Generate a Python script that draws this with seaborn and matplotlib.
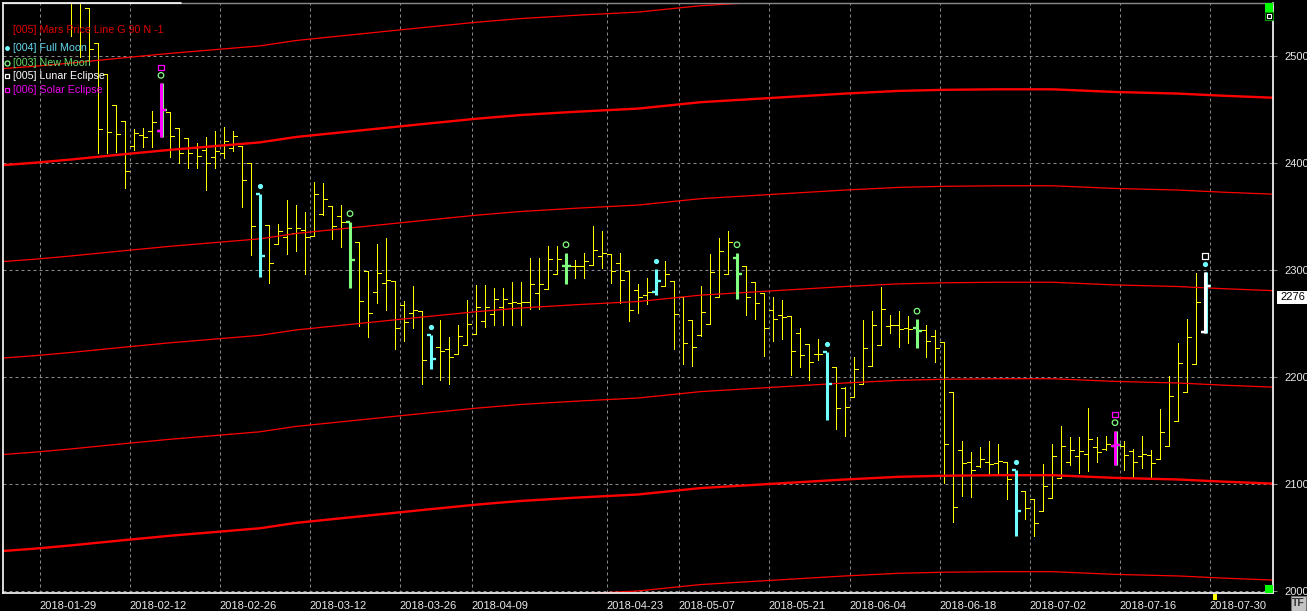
import numpy as np
import pandas as pd
import seaborn as sns
import matplotlib
matplotlib.use("Agg")
import matplotlib.pyplot as plt
from matplotlib.patches import Rectangle

# daily bars, index 0 = 2018-02-01
opens = [2575, 2560, 2544, 2512, 2483, 2454, 2439, 2416, 2426, 2430,
         2430, 2447, 2432, 2423, 2414, 2412, 2405, 2409, 2414, 2416,
         2400, 2371, 2342, 2324, 2331, 2334, 2337, 2332, 2352, 2360,
         2350, 2345, 2326, 2299, 2279, 2288, 2290, 2267, 2260, 2262,
         2239, 2228, 2226, 2222, 2230, 2240, 2252, 2259, 2265, 2269,
         2269, 2270, 2278, 2282, 2296, 2304, 2304, 2304, 2305, 2313,
         2315, 2306, 2299, 2281, 2277, 2279, 2285, 2290, 2275, 2253,
         2239, 2250, 2275, 2296, 2311, 2304, 2289, 2278, 2263, 2258,
         2257, 2241, 2231, 2222, 2223, 2209, 2190, 2181, 2194, 2210,
         2230, 2248, 2249, 2246, 2246, 2244, 2238, 2233, 2186, 2132,
         2121, 2117, 2121, 2120, 2121, 2113, 2094, 2086, 2075, 2087,
         2106, 2121, 2126, 2128, 2135, 2133, 2136, 2136, 2131, 2126,
         2127, 2124, 2136, 2159, 2186, 2212, 2242]
highs = [2590, 2570, 2544, 2512, 2483, 2454, 2439, 2431, 2432, 2448,
         2474, 2447, 2432, 2423, 2418, 2424, 2430, 2433, 2430, 2416,
         2400, 2371, 2342, 2343, 2365, 2361, 2354, 2382, 2381, 2360,
         2361, 2345, 2326, 2299, 2324, 2330, 2290, 2271, 2285, 2262,
         2239, 2253, 2237, 2249, 2272, 2286, 2286, 2283, 2283, 2289,
         2289, 2311, 2311, 2322, 2322, 2316, 2309, 2316, 2341, 2336,
         2315, 2316, 2299, 2287, 2292, 2301, 2308, 2290, 2275, 2253,
         2285, 2315, 2330, 2336, 2316, 2304, 2289, 2278, 2275, 2272,
         2257, 2246, 2231, 2236, 2223, 2209, 2191, 2219, 2253, 2262,
         2284, 2258, 2262, 2257, 2254, 2249, 2244, 2233, 2186, 2140,
         2130, 2135, 2140, 2138, 2121, 2113, 2094, 2086, 2119, 2138,
         2154, 2144, 2144, 2171, 2144, 2145, 2150, 2140, 2133, 2145,
         2132, 2170, 2201, 2232, 2254, 2297, 2298]
lows = [2518, 2499, 2494, 2409, 2409, 2410, 2376, 2412, 2415, 2415,
        2424, 2405, 2400, 2395, 2395, 2375, 2395, 2404, 2411, 2359,
        2314, 2293, 2288, 2324, 2315, 2318, 2296, 2332, 2351, 2329,
        2321, 2283, 2248, 2237, 2269, 2263, 2226, 2234, 2246, 2194,
        2208, 2197, 2194, 2222, 2230, 2240, 2247, 2249, 2249, 2249,
        2249, 2264, 2264, 2282, 2296, 2287, 2292, 2292, 2305, 2302,
        2288, 2269, 2252, 2260, 2268, 2277, 2285, 2226, 2212, 2210,
        2238, 2250, 2275, 2296, 2273, 2258, 2254, 2220, 2234, 2236,
        2202, 2209, 2197, 2216, 2160, 2152, 2145, 2181, 2194, 2210,
        2230, 2241, 2228, 2232, 2227, 2219, 2214, 2101, 2065, 2089,
        2088, 2116, 2110, 2110, 2086, 2052, 2068, 2052, 2075, 2087,
        2106, 2118, 2111, 2112, 2121, 2132, 2118, 2113, 2107, 2115,
        2107, 2124, 2136, 2159, 2186, 2212, 2241]
closes = [2552, 2551, 2506, 2431, 2429, 2427, 2392, 2428, 2424, 2438,
          2449, 2425, 2409, 2409, 2406, 2400, 2411, 2420, 2425, 2384,
          2341, 2313, 2306, 2336, 2339, 2339, 2331, 2371, 2366, 2341,
          2345, 2309, 2271, 2260, 2297, 2291, 2246, 2251, 2263, 2216,
          2217, 2224, 2219, 2238, 2250, 2265, 2265, 2273, 2273, 2270,
          2270, 2287, 2287, 2310, 2310, 2304, 2304, 2308, 2319, 2316,
          2299, 2291, 2263, 2275, 2279, 2290, 2296, 2259, 2232, 2228,
          2261, 2298, 2318, 2326, 2296, 2275, 2269, 2246, 2254, 2256,
          2224, 2221, 2214, 2222, 2194, 2171, 2172, 2208, 2227, 2249,
          2264, 2249, 2245, 2245, 2243, 2234, 2227, 2138, 2079, 2120,
          2113, 2124, 2119, 2122, 2105, 2075, 2078, 2064, 2098, 2126,
          2136, 2132, 2131, 2142, 2130, 2138, 2137, 2127, 2121, 2128,
          2120, 2149, 2182, 2213, 2237, 2270, 2285]

tick_idx = [-3, 7, 17, 27, 37, 45, 60, 68, 78, 87, 97, 107, 117, 127]
tick_labels = ["2018-01-29", "2018-02-12", "2018-02-26", "2018-03-12",
               "2018-03-26", "2018-04-09", "2018-04-23", "2018-05-07",
               "2018-05-21", "2018-06-04", "2018-06-18", "2018-07-02",
               "2018-07-16", "2018-07-30"]
price_ticks = [2000, 2100, 2200, 2300, 2400, 2500]

full_moon = [21, 40, 65, 84, 105, 126]
new_moon = [10, 31, 55, 74, 94, 116]
solar_eclipse = [10, 116]
lunar_eclipse = [126]

# Mars price line (the harmonic near 2400 on the left), read at a few bars
mars_idx = [-8, -4, 0, 6, 11, 16, 21, 25, 32, 39, 45, 50, 56, 63, 70, 77,
            82, 86, 92, 97, 103, 109, 116, 123, 128, 134]
mars_base = [2397.5, 2400, 2403, 2408, 2412, 2415.5, 2419, 2424, 2430, 2436,
             2441, 2444.5, 2447.5, 2450.5, 2456.5, 2460, 2462.5, 2464.5, 2467,
             2468, 2468.5, 2468.5, 2466, 2464.5, 2462.5, 2460.5]
mars_offsets = [90, 0, -90, -180, -270, -360, -450]
last_price = 2276

W, H = 1307, 611
fx = lambda x: x / W
fy = lambda y: 1 - y / H

sns.set_style("dark", {"axes.facecolor": "black", "figure.facecolor": "black"})
plt.rcParams["font.family"] = ["Liberation Sans", "DejaVu Sans"]

YELLOW = "#ffff00"
CYAN = "#70ffff"
GREEN = "#80ff80"
MAGENTA = "#ff00ff"
WHITE = "#ffffff"

fig = plt.figure(figsize=(W / 100, H / 100), dpi=100)
fig.patch.set_facecolor("black")
ax = fig.add_axes([fx(3), fy(593), (1273 - 3) / W, (593 - 3) / H])
ax.set_facecolor("black")

df = pd.DataFrame({"open": opens, "high": highs, "low": lows, "close": closes})
df["idx"] = np.arange(len(df))

# mars lines
mars = pd.DataFrame({"idx": mars_idx, "base": mars_base})
for off in mars_offsets:
    thick = off % 360 == 0
    sns.lineplot(x=mars["idx"], y=mars["base"] + off, color="#ff0000",
                 linewidth=1.7 if thick else 0.9, ax=ax, zorder=2.5,
                 estimator=None)

# plain OHLC bars
special = set(full_moon) | set(new_moon) | set(solar_eclipse) | set(lunar_eclipse)
plain = df[~df["idx"].isin(special)]
bar_kw = dict(color=YELLOW, lw=0.6, zorder=2, antialiased=False)
ax.vlines(plain["idx"], plain["low"], plain["high"], **bar_kw)
ax.hlines(plain["open"], plain["idx"] - 0.42, plain["idx"], **bar_kw)
ax.hlines(plain["close"], plain["idx"], plain["idx"] + 0.42, **bar_kw)


def draw_bar(i, color, shift=0.0, z=3):
    r = df.iloc[i]
    x = i + shift
    ax.vlines(x, r["low"], r["high"], color=color, lw=2.2, zorder=z)
    ax.hlines(r["open"], x - 0.5, x, color=color, lw=1.7, zorder=z)
    ax.hlines(r["close"], x, x + 0.5, color=color, lw=1.7, zorder=z)


for i in sorted(special):
    moon = CYAN if i in full_moon else GREEN
    if i in solar_eclipse or i in lunar_eclipse:
        draw_bar(i, moon, shift=0.15, z=3)
        draw_bar(i, MAGENTA if i in solar_eclipse else WHITE, z=3.1)
    else:
        draw_bar(i, moon)

# event markers above the bars
hi = np.array(highs, dtype=float)
ax.scatter(full_moon, hi[full_moon] + 7.5, s=14, marker="o", color=CYAN,
           linewidths=0, zorder=4)
ax.scatter(new_moon, hi[new_moon] + 7.5, s=16, marker="o", facecolors="none",
           edgecolors=GREEN, linewidths=0.9, zorder=4)
ax.scatter(solar_eclipse, hi[solar_eclipse] + 15, s=16, marker="s",
           facecolors="none", edgecolors=MAGENTA, linewidths=0.9, zorder=4)
ax.scatter(lunar_eclipse, hi[lunar_eclipse] + 15, s=16, marker="s",
           facecolors="none", edgecolors=WHITE, linewidths=0.9, zorder=4)

# axes
ax.set_xlim((3 - 71) / 9, (1273 - 71) / 9)
ax.set_ylim(1998.6, 2549.0)
ax.set_xticks([t - 0.5 for t in tick_idx])
ax.set_xticklabels(tick_labels, ha="left")
ax.set_yticks(price_ticks)
ax.yaxis.tick_right()
ax.tick_params(axis="x", colors="#8a8a8a", labelcolor="#e8e8e8", length=4,
               width=0.8, pad=1.5, labelsize=8, direction="out")
ax.tick_params(axis="y", colors="#8a8a8a", labelcolor="#e8e8e8", length=3,
               width=0.8, pad=5, labelsize=8, right=True, left=False,
               labelright=True, labelleft=False)
ax.set_xlabel("")
ax.set_ylabel("")
ax.grid(True, color="#8a8a8a", linestyle=(0, (3, 3)), linewidth=0.72, zorder=1)
ax.set_axisbelow(True)
for side in ["left", "bottom", "right"]:
    ax.spines[side].set_color("white")
    ax.spines[side].set_linewidth(1.2)
    ax.spines[side].set_visible(True)
ax.spines["top"].set_color("#8a8a8a")
ax.spines["top"].set_linewidth(1.0)
ax.spines["top"].set_visible(True)
fig.add_artist(plt.Line2D([fx(3), fx(181)], [fy(3), fy(3)], color="white", lw=1.2))

# legend
fig.text(fx(13), fy(30), "[005] Mars Price Line G 90 N -1", color="#e00000",
         fontsize=7.7, va="center", ha="left")
legend_rows = [("[004] Full Moon", "#66d9f0", 48),
               ("[003] New Moon", "#66dd66", 62.5),
               ("[005] Lunar Eclipse", "#ffffff", 76),
               ("[006] Solar Eclipse", "#ee00ee", 90)]
for text, col, y in legend_rows:
    fig.text(fx(13), fy(y), text, color=col, fontsize=7.7, va="center", ha="left")
fig.add_artist(plt.Line2D([fx(7)], [fy(48)], marker="o", color=CYAN, ms=3.5, mew=0))
fig.add_artist(plt.Line2D([fx(7)], [fy(62.5)], marker="o", mfc="none", mec=GREEN, ms=3.6, mew=0.9))
fig.add_artist(plt.Line2D([fx(7)], [fy(76)], marker="s", mfc="none", mec=WHITE, ms=3.4, mew=0.9))
fig.add_artist(plt.Line2D([fx(7)], [fy(90)], marker="s", mfc="none", mec=MAGENTA, ms=3.4, mew=0.9))


def px_rect(x0, y0, x1, y1, **kw):
    fig.add_artist(Rectangle((fx(x0), fy(y1)), (x1 - x0) / W, (y1 - y0) / H,
                             transform=fig.transFigure, **kw))


# little chart widgets
px_rect(1265, 3, 1273, 12, facecolor="#00ff00", edgecolor="none")
px_rect(1265, 12, 1273, 20, facecolor="black", edgecolor="#00a000", lw=0.8)
px_rect(1267, 14, 1271, 18, facecolor="none", edgecolor="white", lw=0.8)
px_rect(1265, 585, 1273, 593, facecolor="#00ff00", edgecolor="none")
px_rect(1213, 594, 1217, 600, facecolor=YELLOW, edgecolor="none")
px_rect(1291, 596, 1306, 611, facecolor="#c4c4c4", edgecolor="#707070", lw=0.8)
fig.text(fx(1298.5), fy(603.5), "TF", color="#303030", fontsize=7.5,
         fontweight="bold", ha="center", va="center")

# last price box
px_rect(1277, 291, 1307, 303.5, facecolor="white", edgecolor="none")
fig.text(fx(1280), fy(297), str(last_price), color="black", fontsize=8,
         ha="left", va="center")

fig.savefig("out.png", dpi=100, facecolor="black")
